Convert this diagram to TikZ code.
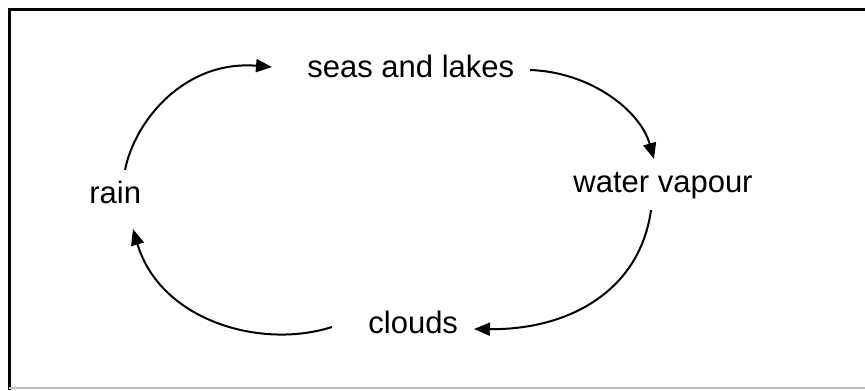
\documentclass[tikz,border=0pt]{standalone}
\usepackage{fontspec}
\setmainfont{Liberation Sans}
\usetikzlibrary{arrows.meta}
\begin{document}
\begin{tikzpicture}[x=0.5pt,y=-0.5pt,
  label/.style={anchor=base west,inner sep=0pt,font=\fontsize{15.5}{18}\selectfont},
  cyc/.style={line width=1pt,-{Triangle[length=8pt,width=6.5pt]}}]
\useasboundingbox (0,0) rectangle (865,390);
% frame
\draw[line width=1.5pt] (9,390) -- (9,10) -- (865,10);
\draw[line width=0.6pt,black!25] (9,388) -- (865,388);
% labels
\node[label] (seas) at (307,77) {seas and lakes};
\node[label] (vap) at (573,192) {water vapour};
\node[label] (rain) at (89,203) {rain};
\node[label] (clouds) at (368,333) {clouds};
% connector end points
\coordinate (r1) at (125,170);
\coordinate (s1) at (272,67);
\coordinate (s2) at (530,70);
\coordinate (v1) at (654,159);
\coordinate (v2) at (651,210);
\coordinate (c1) at (474,329);
\coordinate (c2) at (332,327);
\coordinate (r2) at (133,229);
% connectors
\draw[cyc] (r1) .. controls (135,120) and (185,60) .. (s1);
\draw[cyc] (s2) .. controls (590,72) and (640,110) .. (v1);
\draw[cyc] (v2) .. controls (640,290) and (570,330) .. (c1);
\draw[cyc] (c2) .. controls (260,350) and (160,320) .. (r2);
\end{tikzpicture}
\end{document}
